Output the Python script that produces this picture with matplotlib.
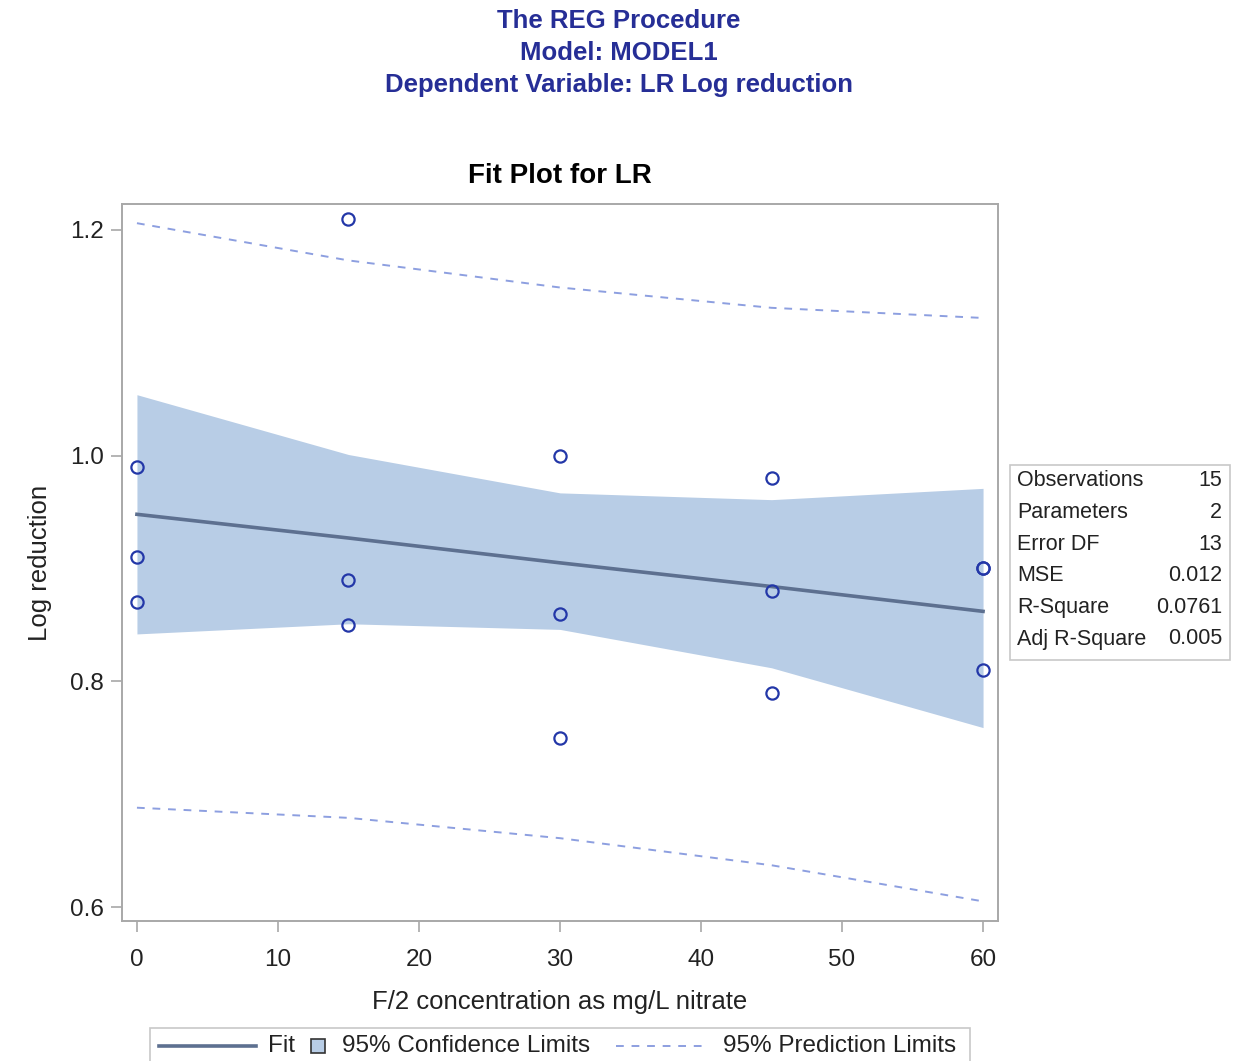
import numpy as np
import matplotlib.pyplot as plt
from matplotlib.lines import Line2D
from matplotlib.patches import Rectangle

plt.rcParams['font.family'] = ['Liberation Sans', 'DejaVu Sans']

# observations
obs_x = [0, 0, 0, 15, 15, 15, 30, 30, 30, 45, 45, 45, 60, 60, 60]
obs_y = [0.99, 0.91, 0.87, 1.21, 0.89, 0.85, 1.00, 0.86, 0.75,
         0.98, 0.88, 0.79, 0.90, 0.90, 0.81]

# fit and limits at the design points
grid_x = [0, 15, 30, 45, 60]
fit_y = [0.948, 0.927, 0.905, 0.884, 0.862]
cl_lo = [0.842, 0.851, 0.846, 0.812, 0.759]
cl_hi = [1.054, 1.001, 0.967, 0.961, 0.971]
pl_lo = [0.688, 0.679, 0.661, 0.637, 0.605]
pl_hi = [1.206, 1.173, 1.149, 1.131, 1.122]

stat_names = ["Observations", "Parameters", "Error DF", "MSE", "R-Square", "Adj R-Square"]
stat_vals = ["15", "2", "13", "0.012", "0.0761", "0.005"]

xticks = [0, 10, 20, 30, 40, 50, 60]
yticks = [0.6, 0.8, 1.0, 1.2]

band_col = "#b8cde6"
fit_col = "#5d7090"
pt_col = "#2337a8"
pl_col = "#8d9fe0"
title_col = "#262e96"
frame_col = "#a8a8a8"
txt_col = "#222222"

W, H = 1238, 1061
def fx(px):
    return px / W
def fy(py):
    return 1 - py / H

fig = plt.figure(figsize=(W / 100, H / 100), dpi=100)
ax = fig.add_axes([fx(122), fy(921), 876 / W, 717 / H])

ax.fill_between(grid_x, cl_lo, cl_hi, color=band_col, lw=0)
ax.plot(grid_x, fit_y, color=fit_col, lw=2.6)
ax.plot(grid_x, pl_hi, color=pl_col, lw=1.4, ls=(0, (4, 4)))
ax.plot(grid_x, pl_lo, color=pl_col, lw=1.4, ls=(0, (4, 4)))
ax.plot(obs_x, obs_y, 'o', mfc='none', mec=pt_col, mew=1.6, ms=8.8)

ax.set_xlim(-1.06, 61.06)
ax.set_ylim(0.5876, 1.223)
ax.set_xticks(xticks)
ax.set_yticks(yticks)
ax.set_yticklabels([f"{v:.1f}" for v in yticks])
ax.tick_params(direction='out', length=8, width=1.2, color=frame_col,
               labelsize=17.5, labelcolor=txt_col)
ax.tick_params(axis='x', pad=12.5)
ax.tick_params(axis='y', pad=5)
for s in ax.spines.values():
    s.set_color(frame_col)
    s.set_linewidth(1.4)

ax.set_xlabel("F/2 concentration as mg/L nitrate", fontsize=18.5, color=txt_col, labelpad=13)
ax.set_ylabel("Log reduction", fontsize=18.5, color=txt_col, labelpad=13)
ax.set_title("Fit Plot for LR", fontsize=20, fontweight='bold', pad=15)

titles = ["The REG Procedure", "Model: MODEL1", "Dependent Variable: LR Log reduction"]
for i, t in enumerate(titles):
    fig.text(0.5, fy(21 + 32 * i), t, ha='center', va='center',
             fontsize=18.5, fontweight='bold', color=title_col)

# stats inset
fig.add_artist(Rectangle((fx(1010), fy(660)), 220 / W, 195 / H,
                         transform=fig.transFigure, fill=False,
                         ec="#c8c8c8", lw=1.2))
for i, (n, v) in enumerate(zip(stat_names, stat_vals)):
    yy = fy(481 + i * 31.6)
    fig.text(fx(1017), yy, n, ha='left', va='center', fontsize=15.5, color=txt_col)
    fig.text(fx(1222), yy, v, ha='right', va='center', fontsize=15.5, color=txt_col)

# legend drawn by hand to mimic the SAS layout
ly = fy(1046)
fig.add_artist(Rectangle((fx(150), fy(1075)), 820 / W, 47 / H,
                         transform=fig.transFigure, fill=False,
                         ec="#c8c8c8", lw=1.2))
fig.add_artist(Line2D([fx(159), fx(256)], [ly, ly], transform=fig.transFigure,
                      color=fit_col, lw=2.6))
fig.text(fx(268), ly, "Fit", ha='left', va='center', fontsize=17.5, color=txt_col)
fig.add_artist(Rectangle((fx(311), fy(1053)), 14 / W, 14 / H,
                         transform=fig.transFigure, fc=band_col,
                         ec="#333333", lw=1.2))
fig.text(fx(342), ly, "95% Confidence Limits", ha='left', va='center',
         fontsize=17.5, color=txt_col)
fig.add_artist(Line2D([fx(616), fx(705)], [ly, ly], transform=fig.transFigure,
                      color=pl_col, lw=1.4, ls=(0, (4, 4))))
fig.text(fx(723), ly, "95% Prediction Limits", ha='left', va='center',
         fontsize=17.5, color=txt_col)

fig.savefig("out.png", dpi=100)
